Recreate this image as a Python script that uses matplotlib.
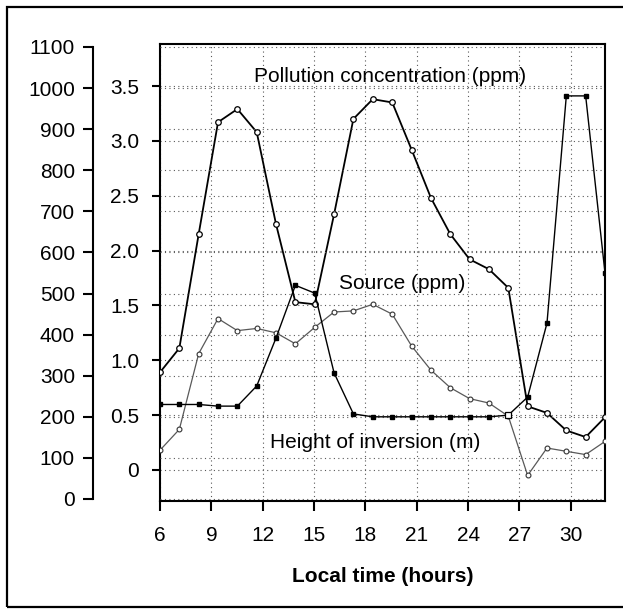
import matplotlib.pyplot as plt
from matplotlib.patches import Rectangle

plt.rcParams['font.family'] = ['Liberation Sans', 'DejaVu Sans']

# hours (24 hourly readings spread over the time axis)
times = [6.0, 7.13, 8.26, 9.39, 10.52, 11.65, 12.78, 13.91, 15.04, 16.17, 17.30, 18.43,
         19.57, 20.70, 21.83, 22.96, 24.09, 25.22, 26.35, 27.48, 28.61, 29.74, 30.87, 32.0]

# ppm
pollution = [0.89, 1.11, 2.15, 3.17, 3.29, 3.08, 2.24, 1.53, 1.51, 2.33, 3.20, 3.38,
             3.35, 2.92, 2.48, 2.15, 1.92, 1.83, 1.66, 0.58, 0.52, 0.36, 0.30, 0.48]
source = [0.18, 0.37, 1.06, 1.38, 1.27, 1.29, 1.25, 1.15, 1.30, 1.44, 1.45, 1.51,
          1.42, 1.13, 0.91, 0.75, 0.65, 0.61, 0.49, -0.05, 0.20, 0.17, 0.14, 0.26]

# metres
inversion = [230, 230, 230, 226, 226, 275, 392, 520, 501, 307, 207, 200,
             200, 200, 200, 200, 200, 200, 204, 248, 428, 981, 981, 550]

x_ticks = [6, 9, 12, 15, 18, 21, 24, 27, 30]
ppm_ticks = [0, 0.5, 1.0, 1.5, 2.0, 2.5, 3.0, 3.5]
ppm_labels = ['0', '0.5', '1.0', '1.5', '2.0', '2.5', '3.0', '3.5']
m_ticks = [0, 100, 200, 300, 400, 500, 600, 700, 800, 900, 1000, 1100]

W, H = 623, 613
fig = plt.figure(figsize=(W / 100, H / 100), dpi=100)

# plot frame in pixels: left 160, right 605, top 44, bottom 501
ax = fig.add_axes([160 / W, 1 - 501 / H, 445 / W, 457 / H])
ax2 = ax.twinx()

fs = 15
grid_kw = dict(color='0.35', linestyle=(0, (1, 3)), linewidth=0.8)

# inner axis (ppm)
ax.set_xlim(6, 32)
ax.set_ylim(-0.283, 3.883)
ax.set_xticks(x_ticks)
ax.set_yticks(ppm_ticks)
ax.set_yticklabels(ppm_labels)
ax.tick_params(axis='y', direction='out', length=6, width=1.5, pad=9, labelsize=fs)
ax.tick_params(axis='x', direction='out', length=7, width=1.5, pad=11, labelsize=fs)
ax.grid(True, **grid_kw)
for s in ax.spines.values():
    s.set_linewidth(1.5)

ax.plot(times, source, color='0.35', lw=0.9, marker='o', ms=3.5, mfc='white',
        mec='0.2', mew=0.8, zorder=3)
ax.plot(times, pollution, color='black', lw=1.3, marker='o', ms=4, mfc='white',
        mec='black', mew=0.9, zorder=4)

# outer axis (m), moved to the far left
ax2.set_ylim(-4.9, 1107.3)
ax2.set_yticks(m_ticks)
ax2.yaxis.set_ticks_position('left')
ax2.yaxis.set_label_position('left')
ax2.spines['left'].set_position(('outward', 48.2))
ax2.spines['left'].set_bounds(0, 1100)
ax2.spines['left'].set_linewidth(1.5)
for k in ['right', 'top', 'bottom']:
    ax2.spines[k].set_visible(False)
ax2.tick_params(axis='y', direction='out', length=7, width=1.5, pad=6, labelsize=fs)
ax2.grid(True, axis='y', **grid_kw)

ax2.plot(times, inversion, color='black', lw=1.0, marker='s', ms=3.5, mfc='black',
         mec='black', zorder=3)
# the open square at the start of the night-time rise
ax2.plot(times[18], inversion[18], marker='s', ms=4, mfc='white', mec='black', mew=0.9,
         zorder=4)

# series labels
ax.text(19.44, 3.59, 'Pollution concentration (ppm)', ha='center', va='center', fontsize=fs)
ax.text(20.14, 1.70, 'Source (ppm)', ha='center', va='center', fontsize=fs)
ax.text(18.59, 0.246, 'Height of inversion (m)', ha='center', va='center', fontsize=fs)

fig.text(383 / W, 1 - 577 / H, 'Local time (hours)', ha='center', va='center',
         fontsize=fs, fontweight='bold')

# scanned figure border (right side runs off the page)
fig.patches.append(Rectangle((7 / W, 6 / H), 1.1, (607 - 7) / H, transform=fig.transFigure,
                             fill=False, lw=1.6, ec='black'))

fig.savefig('out.png', dpi=100)
